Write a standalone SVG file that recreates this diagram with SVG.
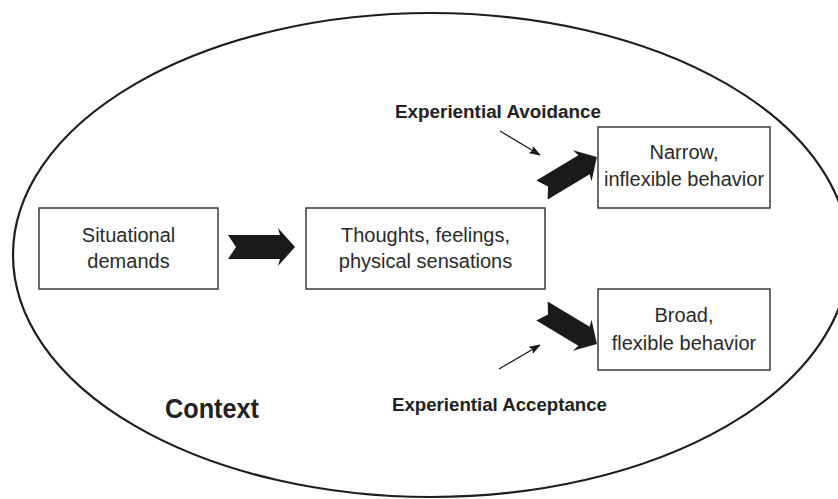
<svg xmlns="http://www.w3.org/2000/svg" width="838" height="499" viewBox="0 0 838 499">
<style>
.box{fill:#fff;stroke:#3a3a3a;stroke-width:1.5}
.lbl{font-family:"Liberation Sans",Arial,sans-serif;font-size:20px;fill:#2a2a2a;text-anchor:middle}
.bold{font-family:"Liberation Sans",Arial,sans-serif;font-weight:bold;fill:#222}
.fat{fill:#1a1a1a}
.thin{stroke:#1a1a1a;stroke-width:1.2;fill:none}
</style>
<defs>
<marker id="ah" markerUnits="userSpaceOnUse" markerWidth="12" markerHeight="10" refX="11" refY="5" orient="auto">
<path d="M1,1.5 L11,5 L1,8.5 L3,5 Z" fill="#1a1a1a" stroke="#1a1a1a" stroke-width="0.8"/>
</marker>
</defs>
<rect width="838" height="499" fill="#fff"/>
<g id="context">
<ellipse cx="431" cy="255" rx="418" ry="242" fill="none" stroke="#1e1e1e" stroke-width="2.2"/>
<text class="bold" x="165" y="418" font-size="27" textLength="94" lengthAdjust="spacingAndGlyphs">Context</text>
</g>
<g id="situational">
<rect class="box" x="39" y="208" width="179" height="81"/>
<text class="lbl" x="128.5" y="242">Situational</text>
<text class="lbl" x="128.5" y="268">demands</text>
</g>
<g id="thoughts">
<rect class="box" x="306" y="208" width="239" height="81"/>
<text class="lbl" x="425.5" y="242">Thoughts, feelings,</text>
<text class="lbl" x="425.5" y="268">physical sensations</text>
</g>
<g id="narrow">
<rect class="box" x="598" y="127" width="172" height="81"/>
<text class="lbl" x="684" y="159">Narrow,</text>
<text class="lbl" x="684" y="186">inflexible behavior</text>
</g>
<g id="broad">
<rect class="box" x="598" y="289" width="172" height="81"/>
<text class="lbl" x="684" y="322">Broad,</text>
<text class="lbl" x="684" y="350">flexible behavior</text>
</g>
<g id="avoidance">
<text class="bold" x="395" y="118" font-size="18" textLength="206" lengthAdjust="spacingAndGlyphs">Experiential Avoidance</text>
</g>
<g id="acceptance">
<text class="bold" x="392" y="411" font-size="18.5" textLength="215" lengthAdjust="spacingAndGlyphs">Experiential Acceptance</text>
</g>
<g id="connectors">
<polygon class="fat" points="228,235 280,235 278,228 295,247 278,266 280,259 228,259 236,247"/>
<polygon class="fat" transform="translate(542,190) rotate(-31)" points="0,-11 49,-11 47,-18 64,0 47,18 49,11 0,11 7,0"/>
<polygon class="fat" transform="translate(542,311) rotate(31)" points="0,-11 49,-11 47,-18 64,0 47,18 49,11 0,11 7,0"/>
<line class="thin" x1="500" y1="131" x2="540" y2="155" marker-end="url(#ah)"/>
<line class="thin" x1="499" y1="369" x2="540" y2="345" marker-end="url(#ah)"/>
</g>
</svg>
